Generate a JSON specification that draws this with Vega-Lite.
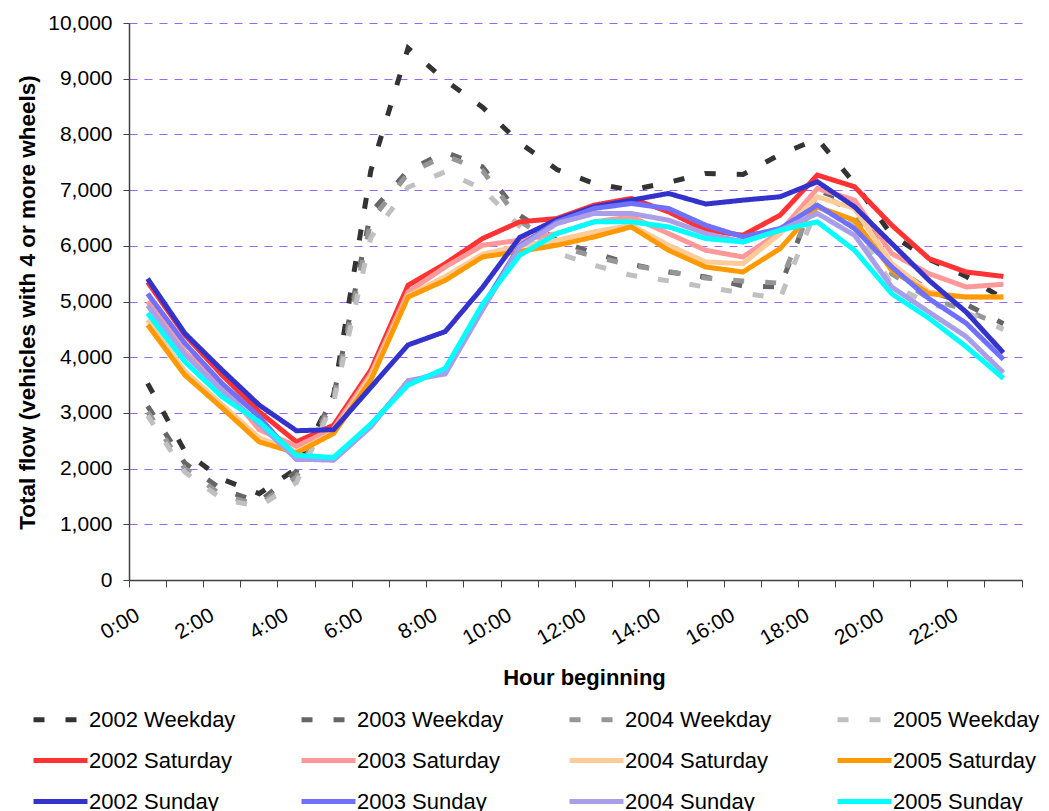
{
"$schema":"https://vega.github.io/schema/vega-lite/v6.json",
"autosize":{"type":"none"},
"padding":{"left":129,"top":23,"right":27,"bottom":231},
"width":893,"height":557,
"background":"white",
"config":{"font":"Liberation Sans","view":{"stroke":null}},
"data":{"values":[
{"h":"0:00","s":"2002 Weekday","v":3530},{"h":"1:00","s":"2002 Weekday","v":2310},{"h":"2:00","s":"2002 Weekday","v":1810},{"h":"3:00","s":"2002 Weekday","v":1550},{"h":"4:00","s":"2002 Weekday","v":2000},{"h":"5:00","s":"2002 Weekday","v":3320},{"h":"6:00","s":"2002 Weekday","v":7350},{"h":"7:00","s":"2002 Weekday","v":9550},{"h":"8:00","s":"2002 Weekday","v":8970},{"h":"9:00","s":"2002 Weekday","v":8490},{"h":"10:00","s":"2002 Weekday","v":7850},{"h":"11:00","s":"2002 Weekday","v":7370},{"h":"12:00","s":"2002 Weekday","v":7120},{"h":"13:00","s":"2002 Weekday","v":7000},{"h":"14:00","s":"2002 Weekday","v":7140},{"h":"15:00","s":"2002 Weekday","v":7300},{"h":"16:00","s":"2002 Weekday","v":7280},{"h":"17:00","s":"2002 Weekday","v":7640},{"h":"18:00","s":"2002 Weekday","v":7920},{"h":"19:00","s":"2002 Weekday","v":7120},{"h":"20:00","s":"2002 Weekday","v":6190},{"h":"21:00","s":"2002 Weekday","v":5760},{"h":"22:00","s":"2002 Weekday","v":5450},{"h":"23:00","s":"2002 Weekday","v":5050},
{"h":"0:00","s":"2003 Weekday","v":3120},{"h":"1:00","s":"2003 Weekday","v":2100},{"h":"2:00","s":"2003 Weekday","v":1620},{"h":"3:00","s":"2003 Weekday","v":1400},{"h":"4:00","s":"2003 Weekday","v":1950},{"h":"5:00","s":"2003 Weekday","v":3300},{"h":"6:00","s":"2003 Weekday","v":6600},{"h":"7:00","s":"2003 Weekday","v":7350},{"h":"8:00","s":"2003 Weekday","v":7680},{"h":"9:00","s":"2003 Weekday","v":7420},{"h":"10:00","s":"2003 Weekday","v":6550},{"h":"11:00","s":"2003 Weekday","v":6100},{"h":"12:00","s":"2003 Weekday","v":5870},{"h":"13:00","s":"2003 Weekday","v":5670},{"h":"14:00","s":"2003 Weekday","v":5530},{"h":"15:00","s":"2003 Weekday","v":5440},{"h":"16:00","s":"2003 Weekday","v":5280},{"h":"17:00","s":"2003 Weekday","v":5260},{"h":"18:00","s":"2003 Weekday","v":7000},{"h":"19:00","s":"2003 Weekday","v":6750},{"h":"20:00","s":"2003 Weekday","v":5650},{"h":"21:00","s":"2003 Weekday","v":5200},{"h":"22:00","s":"2003 Weekday","v":4950},{"h":"23:00","s":"2003 Weekday","v":4600},
{"h":"0:00","s":"2004 Weekday","v":3020},{"h":"1:00","s":"2004 Weekday","v":2000},{"h":"2:00","s":"2004 Weekday","v":1520},{"h":"3:00","s":"2004 Weekday","v":1350},{"h":"4:00","s":"2004 Weekday","v":1850},{"h":"5:00","s":"2004 Weekday","v":3250},{"h":"6:00","s":"2004 Weekday","v":6450},{"h":"7:00","s":"2004 Weekday","v":7300},{"h":"8:00","s":"2004 Weekday","v":7620},{"h":"9:00","s":"2004 Weekday","v":7350},{"h":"10:00","s":"2004 Weekday","v":6450},{"h":"11:00","s":"2004 Weekday","v":6000},{"h":"12:00","s":"2004 Weekday","v":5810},{"h":"13:00","s":"2004 Weekday","v":5650},{"h":"14:00","s":"2004 Weekday","v":5540},{"h":"15:00","s":"2004 Weekday","v":5420},{"h":"16:00","s":"2004 Weekday","v":5370},{"h":"17:00","s":"2004 Weekday","v":5330},{"h":"18:00","s":"2004 Weekday","v":6950},{"h":"19:00","s":"2004 Weekday","v":6600},{"h":"20:00","s":"2004 Weekday","v":5500},{"h":"21:00","s":"2004 Weekday","v":5050},{"h":"22:00","s":"2004 Weekday","v":4850},{"h":"23:00","s":"2004 Weekday","v":4550},
{"h":"0:00","s":"2005 Weekday","v":2950},{"h":"1:00","s":"2005 Weekday","v":1940},{"h":"2:00","s":"2005 Weekday","v":1450},{"h":"3:00","s":"2005 Weekday","v":1320},{"h":"4:00","s":"2005 Weekday","v":1750},{"h":"5:00","s":"2005 Weekday","v":3200},{"h":"6:00","s":"2005 Weekday","v":6150},{"h":"7:00","s":"2005 Weekday","v":7050},{"h":"8:00","s":"2005 Weekday","v":7330},{"h":"9:00","s":"2005 Weekday","v":7020},{"h":"10:00","s":"2005 Weekday","v":6350},{"h":"11:00","s":"2005 Weekday","v":5870},{"h":"12:00","s":"2005 Weekday","v":5650},{"h":"13:00","s":"2005 Weekday","v":5470},{"h":"14:00","s":"2005 Weekday","v":5370},{"h":"15:00","s":"2005 Weekday","v":5260},{"h":"16:00","s":"2005 Weekday","v":5150},{"h":"17:00","s":"2005 Weekday","v":5060},{"h":"18:00","s":"2005 Weekday","v":6700},{"h":"19:00","s":"2005 Weekday","v":6400},{"h":"20:00","s":"2005 Weekday","v":5300},{"h":"21:00","s":"2005 Weekday","v":4960},{"h":"22:00","s":"2005 Weekday","v":4800},{"h":"23:00","s":"2005 Weekday","v":4500},
{"h":"0:00","s":"2002 Saturday","v":5350},{"h":"1:00","s":"2002 Saturday","v":4400},{"h":"2:00","s":"2002 Saturday","v":3680},{"h":"3:00","s":"2002 Saturday","v":3020},{"h":"4:00","s":"2002 Saturday","v":2480},{"h":"5:00","s":"2002 Saturday","v":2780},{"h":"6:00","s":"2002 Saturday","v":3770},{"h":"7:00","s":"2002 Saturday","v":5290},{"h":"8:00","s":"2002 Saturday","v":5680},{"h":"9:00","s":"2002 Saturday","v":6130},{"h":"10:00","s":"2002 Saturday","v":6430},{"h":"11:00","s":"2002 Saturday","v":6490},{"h":"12:00","s":"2002 Saturday","v":6730},{"h":"13:00","s":"2002 Saturday","v":6850},{"h":"14:00","s":"2002 Saturday","v":6610},{"h":"15:00","s":"2002 Saturday","v":6280},{"h":"16:00","s":"2002 Saturday","v":6190},{"h":"17:00","s":"2002 Saturday","v":6550},{"h":"18:00","s":"2002 Saturday","v":7270},{"h":"19:00","s":"2002 Saturday","v":7060},{"h":"20:00","s":"2002 Saturday","v":6370},{"h":"21:00","s":"2002 Saturday","v":5770},{"h":"22:00","s":"2002 Saturday","v":5530},{"h":"23:00","s":"2002 Saturday","v":5450},
{"h":"0:00","s":"2003 Saturday","v":5000},{"h":"1:00","s":"2003 Saturday","v":4100},{"h":"2:00","s":"2003 Saturday","v":3500},{"h":"3:00","s":"2003 Saturday","v":2700},{"h":"4:00","s":"2003 Saturday","v":2400},{"h":"5:00","s":"2003 Saturday","v":2720},{"h":"6:00","s":"2003 Saturday","v":3700},{"h":"7:00","s":"2003 Saturday","v":5170},{"h":"8:00","s":"2003 Saturday","v":5620},{"h":"9:00","s":"2003 Saturday","v":6010},{"h":"10:00","s":"2003 Saturday","v":6100},{"h":"11:00","s":"2003 Saturday","v":6220},{"h":"12:00","s":"2003 Saturday","v":6430},{"h":"13:00","s":"2003 Saturday","v":6520},{"h":"14:00","s":"2003 Saturday","v":6220},{"h":"15:00","s":"2003 Saturday","v":5920},{"h":"16:00","s":"2003 Saturday","v":5800},{"h":"17:00","s":"2003 Saturday","v":6250},{"h":"18:00","s":"2003 Saturday","v":7030},{"h":"19:00","s":"2003 Saturday","v":6820},{"h":"20:00","s":"2003 Saturday","v":5860},{"h":"21:00","s":"2003 Saturday","v":5500},{"h":"22:00","s":"2003 Saturday","v":5260},{"h":"23:00","s":"2003 Saturday","v":5310},
{"h":"0:00","s":"2004 Saturday","v":4670},{"h":"1:00","s":"2004 Saturday","v":3750},{"h":"2:00","s":"2004 Saturday","v":3150},{"h":"3:00","s":"2004 Saturday","v":2550},{"h":"4:00","s":"2004 Saturday","v":2300},{"h":"5:00","s":"2004 Saturday","v":2650},{"h":"6:00","s":"2004 Saturday","v":3650},{"h":"7:00","s":"2004 Saturday","v":5100},{"h":"8:00","s":"2004 Saturday","v":5450},{"h":"9:00","s":"2004 Saturday","v":5850},{"h":"10:00","s":"2004 Saturday","v":6000},{"h":"11:00","s":"2004 Saturday","v":6100},{"h":"12:00","s":"2004 Saturday","v":6250},{"h":"13:00","s":"2004 Saturday","v":6370},{"h":"14:00","s":"2004 Saturday","v":6010},{"h":"15:00","s":"2004 Saturday","v":5710},{"h":"16:00","s":"2004 Saturday","v":5680},{"h":"17:00","s":"2004 Saturday","v":6220},{"h":"18:00","s":"2004 Saturday","v":6880},{"h":"19:00","s":"2004 Saturday","v":6670},{"h":"20:00","s":"2004 Saturday","v":5680},{"h":"21:00","s":"2004 Saturday","v":5170},{"h":"22:00","s":"2004 Saturday","v":5080},{"h":"23:00","s":"2004 Saturday","v":5080},
{"h":"0:00","s":"2005 Saturday","v":4580},{"h":"1:00","s":"2005 Saturday","v":3680},{"h":"2:00","s":"2005 Saturday","v":3090},{"h":"3:00","s":"2005 Saturday","v":2480},{"h":"4:00","s":"2005 Saturday","v":2280},{"h":"5:00","s":"2005 Saturday","v":2630},{"h":"6:00","s":"2005 Saturday","v":3590},{"h":"7:00","s":"2005 Saturday","v":5080},{"h":"8:00","s":"2005 Saturday","v":5380},{"h":"9:00","s":"2005 Saturday","v":5800},{"h":"10:00","s":"2005 Saturday","v":5900},{"h":"11:00","s":"2005 Saturday","v":6010},{"h":"12:00","s":"2005 Saturday","v":6160},{"h":"13:00","s":"2005 Saturday","v":6340},{"h":"14:00","s":"2005 Saturday","v":5920},{"h":"15:00","s":"2005 Saturday","v":5620},{"h":"16:00","s":"2005 Saturday","v":5530},{"h":"17:00","s":"2005 Saturday","v":5950},{"h":"18:00","s":"2005 Saturday","v":6700},{"h":"19:00","s":"2005 Saturday","v":6460},{"h":"20:00","s":"2005 Saturday","v":5560},{"h":"21:00","s":"2005 Saturday","v":5140},{"h":"22:00","s":"2005 Saturday","v":5080},{"h":"23:00","s":"2005 Saturday","v":5080},
{"h":"0:00","s":"2002 Sunday","v":5410},{"h":"1:00","s":"2002 Sunday","v":4430},{"h":"2:00","s":"2002 Sunday","v":3770},{"h":"3:00","s":"2002 Sunday","v":3140},{"h":"4:00","s":"2002 Sunday","v":2680},{"h":"5:00","s":"2002 Sunday","v":2700},{"h":"6:00","s":"2002 Sunday","v":3460},{"h":"7:00","s":"2002 Sunday","v":4220},{"h":"8:00","s":"2002 Sunday","v":4460},{"h":"9:00","s":"2002 Sunday","v":5250},{"h":"10:00","s":"2002 Sunday","v":6150},{"h":"11:00","s":"2002 Sunday","v":6470},{"h":"12:00","s":"2002 Sunday","v":6700},{"h":"13:00","s":"2002 Sunday","v":6820},{"h":"14:00","s":"2002 Sunday","v":6940},{"h":"15:00","s":"2002 Sunday","v":6750},{"h":"16:00","s":"2002 Sunday","v":6820},{"h":"17:00","s":"2002 Sunday","v":6880},{"h":"18:00","s":"2002 Sunday","v":7150},{"h":"19:00","s":"2002 Sunday","v":6700},{"h":"20:00","s":"2002 Sunday","v":6040},{"h":"21:00","s":"2002 Sunday","v":5380},{"h":"22:00","s":"2002 Sunday","v":4810},{"h":"23:00","s":"2002 Sunday","v":4080},
{"h":"0:00","s":"2003 Sunday","v":5140},{"h":"1:00","s":"2003 Sunday","v":4250},{"h":"2:00","s":"2003 Sunday","v":3530},{"h":"3:00","s":"2003 Sunday","v":2930},{"h":"4:00","s":"2003 Sunday","v":2170},{"h":"5:00","s":"2003 Sunday","v":2170},{"h":"6:00","s":"2003 Sunday","v":2780},{"h":"7:00","s":"2003 Sunday","v":3550},{"h":"8:00","s":"2003 Sunday","v":3750},{"h":"9:00","s":"2003 Sunday","v":4900},{"h":"10:00","s":"2003 Sunday","v":6000},{"h":"11:00","s":"2003 Sunday","v":6430},{"h":"12:00","s":"2003 Sunday","v":6670},{"h":"13:00","s":"2003 Sunday","v":6760},{"h":"14:00","s":"2003 Sunday","v":6670},{"h":"15:00","s":"2003 Sunday","v":6370},{"h":"16:00","s":"2003 Sunday","v":6160},{"h":"17:00","s":"2003 Sunday","v":6310},{"h":"18:00","s":"2003 Sunday","v":6730},{"h":"19:00","s":"2003 Sunday","v":6310},{"h":"20:00","s":"2003 Sunday","v":5620},{"h":"21:00","s":"2003 Sunday","v":5050},{"h":"22:00","s":"2003 Sunday","v":4610},{"h":"23:00","s":"2003 Sunday","v":3960},
{"h":"0:00","s":"2004 Sunday","v":4930},{"h":"1:00","s":"2004 Sunday","v":4050},{"h":"2:00","s":"2004 Sunday","v":3400},{"h":"3:00","s":"2004 Sunday","v":2800},{"h":"4:00","s":"2004 Sunday","v":2170},{"h":"5:00","s":"2004 Sunday","v":2150},{"h":"6:00","s":"2004 Sunday","v":2750},{"h":"7:00","s":"2004 Sunday","v":3580},{"h":"8:00","s":"2004 Sunday","v":3700},{"h":"9:00","s":"2004 Sunday","v":4850},{"h":"10:00","s":"2004 Sunday","v":5980},{"h":"11:00","s":"2004 Sunday","v":6400},{"h":"12:00","s":"2004 Sunday","v":6580},{"h":"13:00","s":"2004 Sunday","v":6580},{"h":"14:00","s":"2004 Sunday","v":6460},{"h":"15:00","s":"2004 Sunday","v":6220},{"h":"16:00","s":"2004 Sunday","v":6070},{"h":"17:00","s":"2004 Sunday","v":6280},{"h":"18:00","s":"2004 Sunday","v":6580},{"h":"19:00","s":"2004 Sunday","v":6190},{"h":"20:00","s":"2004 Sunday","v":5260},{"h":"21:00","s":"2004 Sunday","v":4810},{"h":"22:00","s":"2004 Sunday","v":4370},{"h":"23:00","s":"2004 Sunday","v":3720},
{"h":"0:00","s":"2005 Sunday","v":4790},{"h":"1:00","s":"2005 Sunday","v":3920},{"h":"2:00","s":"2005 Sunday","v":3290},{"h":"3:00","s":"2005 Sunday","v":2840},{"h":"4:00","s":"2005 Sunday","v":2240},{"h":"5:00","s":"2005 Sunday","v":2200},{"h":"6:00","s":"2005 Sunday","v":2800},{"h":"7:00","s":"2005 Sunday","v":3500},{"h":"8:00","s":"2005 Sunday","v":3800},{"h":"9:00","s":"2005 Sunday","v":4950},{"h":"10:00","s":"2005 Sunday","v":5830},{"h":"11:00","s":"2005 Sunday","v":6220},{"h":"12:00","s":"2005 Sunday","v":6430},{"h":"13:00","s":"2005 Sunday","v":6430},{"h":"14:00","s":"2005 Sunday","v":6340},{"h":"15:00","s":"2005 Sunday","v":6130},{"h":"16:00","s":"2005 Sunday","v":6070},{"h":"17:00","s":"2005 Sunday","v":6280},{"h":"18:00","s":"2005 Sunday","v":6430},{"h":"19:00","s":"2005 Sunday","v":5920},{"h":"20:00","s":"2005 Sunday","v":5140},{"h":"21:00","s":"2005 Sunday","v":4700},{"h":"22:00","s":"2005 Sunday","v":4190},{"h":"23:00","s":"2005 Sunday","v":3620}
]},
"mark":{"type":"line","strokeWidth":5,"strokeCap":"butt"},
"encoding":{
"x":{"field":"h","type":"ordinal",
"scale":{"type":"band","paddingInner":0,"paddingOuter":0,"domain":["0:00","1:00","2:00","3:00","4:00","5:00","6:00","7:00","8:00","9:00","10:00","11:00","12:00","13:00","14:00","15:00","16:00","17:00","18:00","19:00","20:00","21:00","22:00","23:00"]},
"axis":{"title":"Hour beginning","titleFontSize":22,"titleFontWeight":"bold","titleColor":"black","titleX":455,"titleY":97,"titleBaseline":"middle","titleAlign":"center",
"bandPosition":1,"tickExtra":true,"tickSize":7,"tickColor":"#404040","domainColor":"#404040","domainWidth":1.5,
"labelAngle":-30,"labelAlign":"right","labelBaseline":"top","labelFontSize":21,"labelColor":"black","labelPadding":17,"labelOffset":-15,"labelOverlap":false,
"labelExpr":"toNumber(split(datum.value, ':')[0]) % 2 === 0 ? datum.value : ''","grid":false}},
"y":{"field":"v","type":"quantitative","scale":{"domain":[0,10000],"nice":false},
"axis":{"title":"Total flow (vehicles with 4 or more wheels)","titleFontSize":22.5,"titleFontWeight":"bold","titleColor":"black","titleX":-102,"titleY":279,"titleAngle":-90,"titleBaseline":"middle","titleAlign":"center",
"values":[0,1000,2000,3000,4000,5000,6000,7000,8000,9000,10000],"format":",d","labelFontSize":21,"labelColor":"black","labelPadding":11,"tickSize":6,"tickColor":"#404040","domainColor":"#404040","domainWidth":1.5,
"grid":true,"gridColor":"#9966ff","gridDash":[8,7],"gridWidth":1}},
"color":{"field":"s","type":"nominal",
"scale":{"domain":["2002 Weekday","2003 Weekday","2004 Weekday","2005 Weekday","2002 Saturday","2003 Saturday","2004 Saturday","2005 Saturday","2002 Sunday","2003 Sunday","2004 Sunday","2005 Sunday"],
"range":["#333333","#666666","#969696","#c0c0c0","#ff3333","#ff9999","#ffcc99","#ff9900","#3333cc","#7070ff","#a99ee8","#00ffff"]},
"legend":{"title":null,"orient":"none","legendX":-98,"legendY":667,"direction":"horizontal","columns":4,"columnPadding":55,"rowPadding":0,"padding":0,"symbolType":"stroke","symbolSize":2916,"symbolStrokeWidth":5,"labelFontSize":22,"labelColor":"black","labelOffset":-1,"labelLimit":400}},
"strokeDash":{"field":"s","type":"nominal",
"scale":{"domain":["2002 Weekday","2003 Weekday","2004 Weekday","2005 Weekday","2002 Saturday","2003 Saturday","2004 Saturday","2005 Saturday","2002 Sunday","2003 Sunday","2004 Sunday","2005 Sunday"],
"range":[[11,21],[11,21],[11,21],[11,21],[1,0],[1,0],[1,0],[1,0],[1,0],[1,0],[1,0],[1,0]]},
"legend":{"title":null,"orient":"none","legendX":-98,"legendY":667,"direction":"horizontal","columns":4,"columnPadding":55,"rowPadding":0,"padding":0,"symbolType":"stroke","symbolSize":2916,"symbolStrokeWidth":5,"labelFontSize":22,"labelColor":"black","labelOffset":-1,"labelLimit":400}}
}
}
